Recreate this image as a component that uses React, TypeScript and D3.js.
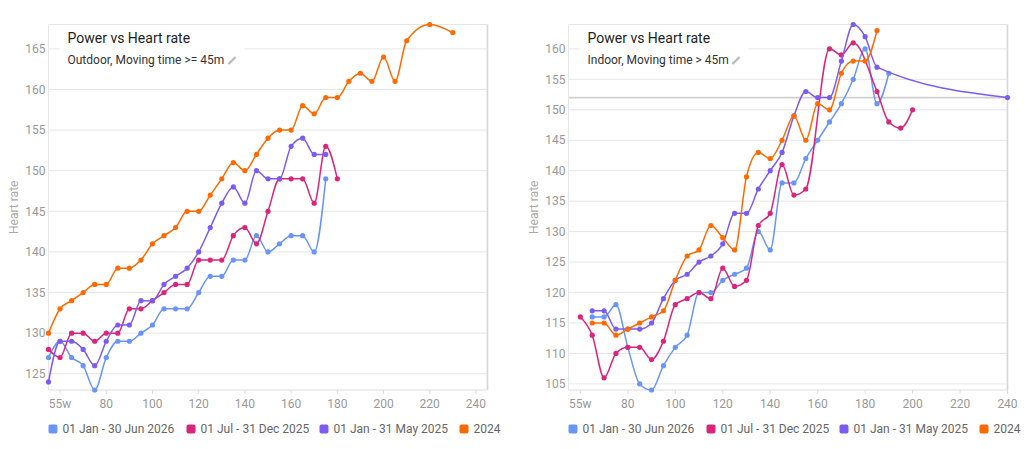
import * as d3 from "d3"

// colours of the four periods (legend order)
const seriesNames = ["01 Jan - 30 Jun 2026", "01 Jul - 31 Dec 2025", "01 Jan - 31 May 2025", "2024"]
const seriesColors = ["#6a95f7", "#d9257c", "#7c5cf0", "#ff6a00"]

// Outdoor, moving time >= 45m
const outdoorPower2026 = [55, 60, 65, 70, 75, 80, 85, 90, 95, 100, 105, 110, 115, 120, 125, 130, 135, 140, 145, 150, 155, 160, 165, 170, 175]
const outdoorHr2026 = [127, 129, 127, 126, 123, 127, 129, 129, 130, 131, 133, 133, 133, 135, 137, 137, 139, 139, 142, 140, 141, 142, 142, 140, 149]
const outdoorPowerH2 = [55, 60, 65, 70, 75, 80, 85, 90, 95, 100, 105, 110, 115, 120, 125, 130, 135, 140, 145, 150, 155, 160, 165, 170, 175, 180]
const outdoorHrH2 = [128, 127, 130, 130, 129, 130, 130, 133, 133, 134, 135, 136, 136, 139, 139, 139, 142, 143, 141, 145, 149, 149, 149, 146, 153, 149]
const outdoorPowerH1 = [55, 60, 65, 70, 75, 80, 85, 90, 95, 100, 105, 110, 115, 120, 125, 130, 135, 140, 145, 150, 155, 160, 165, 170, 175]
const outdoorHrH1 = [124, 129, 129, 128, 126, 129, 131, 131, 134, 134, 136, 137, 138, 140, 143, 146, 148, 146, 150, 149, 149, 153, 154, 152, 152]
const outdoorPower2024 = [55, 60, 65, 70, 75, 80, 85, 90, 95, 100, 105, 110, 115, 120, 125, 130, 135, 140, 145, 150, 155, 160, 165, 170, 175, 180, 185, 190, 195, 200, 205, 210, 220, 230]
const outdoorHr2024 = [130, 133, 134, 135, 136, 136, 138, 138, 139, 141, 142, 143, 145, 145, 147, 149, 151, 150, 152, 154, 155, 155, 158, 157, 159, 159, 161, 162, 161, 164, 161, 166, 168, 167]

// Indoor, moving time > 45m
const indoorPower2026 = [65, 70, 75, 80, 85, 90, 95, 100, 105, 110, 115, 120, 125, 130, 135, 140, 145, 150, 155, 160, 165, 170, 175, 180, 185, 190]
const indoorHr2026 = [116, 116, 118, 111, 105, 104, 108, 111, 113, 120, 120, 122, 123, 124, 130, 127, 138, 138, 142, 145, 148, 151, 155, 160, 151, 156]
const indoorPowerH2 = [60, 65, 70, 75, 80, 85, 90, 95, 100, 105, 110, 115, 120, 125, 130, 135, 140, 145, 150, 155, 165, 170, 175, 185, 190, 195, 200]
const indoorHrH2 = [116, 113, 106, 110, 111, 111, 109, 112, 118, 119, 120, 119, 124, 121, 122, 131, 133, 141, 136, 137, 160, 159, 161, 153, 148, 147, 150]
const indoorPowerH1 = [65, 70, 75, 80, 85, 90, 95, 100, 105, 110, 115, 120, 125, 130, 135, 140, 145, 150, 155, 160, 165, 170, 175, 180, 185, 240]
const indoorHrH1 = [117, 117, 114, 114, 114, 115, 119, 122, 123, 125, 126, 128, 133, 133, 137, 140, 143, 149, 153, 152, 152, 158, 164, 162, 157, 152]
const indoorPower2024 = [65, 70, 75, 80, 85, 90, 95, 100, 105, 110, 115, 120, 125, 130, 135, 140, 145, 150, 155, 160, 165, 170, 175, 180, 185]
const indoorHr2024 = [115, 115, 113, 114, 115, 116, 117, 122, 126, 127, 131, 129, 127, 139, 143, 142, 145, 149, 145, 151, 150, 156, 158, 158, 163]

const xTicks = [60, 80, 100, 120, 140, 160, 180, 200, 220, 240]
const xTickLabels = ["55w", "80", "100", "120", "140", "160", "180", "200", "220", "240"]
const outdoorYTicks = [125, 130, 135, 140, 145, 150, 155, 160, 165]
const indoorYTicks = [105, 110, 115, 120, 125, 130, 135, 140, 145, 150, 155, 160]

const font = "Roboto, 'Noto Sans', sans-serif"

type Series = { power: number[]; hr: number[] }

interface ChartProps {
  left: number
  title: string
  subtitle: string
  boxWidth: number
  xDomain: [number, number]
  yDomain: [number, number]
  yTicks: number[]
  refLine?: number
  series: Series[]
}

function Chart({ left, title, subtitle, boxWidth, xDomain, yDomain, yTicks, refLine, series }: ChartProps) {
  const top = 24.5
  const bottom = 390
  const width = 439
  const right = left + width

  const x = d3.scaleLinear().domain(xDomain).range([left, right])
  const y = d3.scaleLinear().domain(yDomain).range([bottom, top])

  const line = d3
    .line<[number, number]>()
    .x(d => x(d[0]))
    .y(d => y(d[1]))
    .curve(d3.curveMonotoneX)

  const boxLeft = left + 11
  const boxRight = boxLeft + boxWidth

  return (
    <g>
      {/* grid */}
      {yTicks.map(t => (
        <line key={t} x1={left} x2={right} y1={y(t)} y2={y(t)} stroke="#e6e6e6" strokeWidth={1} />
      ))}
      {refLine !== undefined && (
        <line x1={left} x2={right} y1={y(refLine)} y2={y(refLine)} stroke="#cfcfcf" strokeWidth={1.6} />
      )}
      <line x1={left} x2={right} y1={top} y2={top} stroke="#e6e6e6" />
      <line x1={left} x2={left} y1={top} y2={bottom} stroke="#e6e6e6" />
      <line x1={right} x2={right} y1={top} y2={bottom} stroke="#d6d6d6" strokeWidth={1.6} />
      <line x1={left} x2={right} y1={bottom} y2={bottom} stroke="#dcdcdc" />
      {xTicks.map(t => (
        <line key={t} x1={x(t)} x2={x(t)} y1={bottom} y2={bottom + 4} stroke="#dcdcdc" />
      ))}

      {/* title box */}
      <rect x={boxLeft} y={27} width={boxWidth} height={44} fill="#fff" />
      <text x={boxLeft + 8} y={43} fontSize={14} fill="#222" fontFamily={font}>
        {title}
      </text>
      <text x={boxLeft + 8} y={64} fontSize={12} fill="#333" fontFamily={font}>
        {subtitle}
      </text>
      <g stroke="#b8b8b8" strokeLinecap="butt">
        <line x1={boxRight - 16} y1={64} x2={boxRight - 9} y2={57} strokeWidth={2.2} />
      </g>

      {/* series */}
      {series.map((s, i) => {
        const pts = s.power.map((p, j) => [p, s.hr[j]] as [number, number])
        return (
          <g key={i}>
            <path d={line(pts) || ""} fill="none" stroke={seriesColors[i]} strokeWidth={1.5} />
            {pts.map((d, j) => (
              <circle key={j} cx={x(d[0])} cy={y(d[1])} r={2.6} fill={seriesColors[i]} />
            ))}
          </g>
        )
      })}

      {/* axes labels */}
      {yTicks.map(t => (
        <text
          key={t}
          x={left - 3}
          y={y(t)}
          dy="0.35em"
          textAnchor="end"
          fontSize={12}
          fill="#999"
          fontFamily={font}
        >
          {t}
        </text>
      ))}
      {xTicks.map((t, i) => (
        <text key={t} x={x(t)} y={407.5} textAnchor="middle" fontSize={12} fill="#999" fontFamily={font}>
          {xTickLabels[i]}
        </text>
      ))}
      <text
        transform={`translate(${left - 31},${(top + bottom) / 2}) rotate(-90)`}
        textAnchor="middle"
        fontSize={12}
        fill="#aaa"
        fontFamily={font}
      >
        Heart rate
      </text>

      {/* legend */}
      {seriesNames.map((name, i) => {
        const lx = left + [0, 138, 271, 411][i]
        return (
          <g key={name}>
            <rect x={lx} y={424.5} width={9} height={9} rx={2} fill={seriesColors[i]} />
            <text x={lx + 14} y={433} fontSize={12} fill="#666" fontFamily={font}>
              {name}
            </text>
          </g>
        )
      })}
    </g>
  )
}

export default function App() {
  return (
    <svg width={1029} height={449} style={{ position: "absolute", left: 0, top: 0, background: "#fff" }}>
      <Chart
        left={48.5}
        title="Power vs Heart rate"
        subtitle="Outdoor, Moving time >= 45m"
        boxWidth={185}
        xDomain={[55, 245]}
        yDomain={[123, 168]}
        yTicks={outdoorYTicks}
        series={[
          { power: outdoorPower2026, hr: outdoorHr2026 },
          { power: outdoorPowerH2, hr: outdoorHrH2 },
          { power: outdoorPowerH1, hr: outdoorHrH1 },
          { power: outdoorPower2024, hr: outdoorHr2024 },
        ]}
      />
      <Chart
        left={568.5}
        title="Power vs Heart rate"
        subtitle="Indoor, Moving time > 45m"
        boxWidth={169}
        xDomain={[55, 240]}
        yDomain={[104, 164]}
        yTicks={indoorYTicks}
        refLine={152}
        series={[
          { power: indoorPower2026, hr: indoorHr2026 },
          { power: indoorPowerH2, hr: indoorHrH2 },
          { power: indoorPowerH1, hr: indoorHrH1 },
          { power: indoorPower2024, hr: indoorHr2024 },
        ]}
      />
    </svg>
  )
}
